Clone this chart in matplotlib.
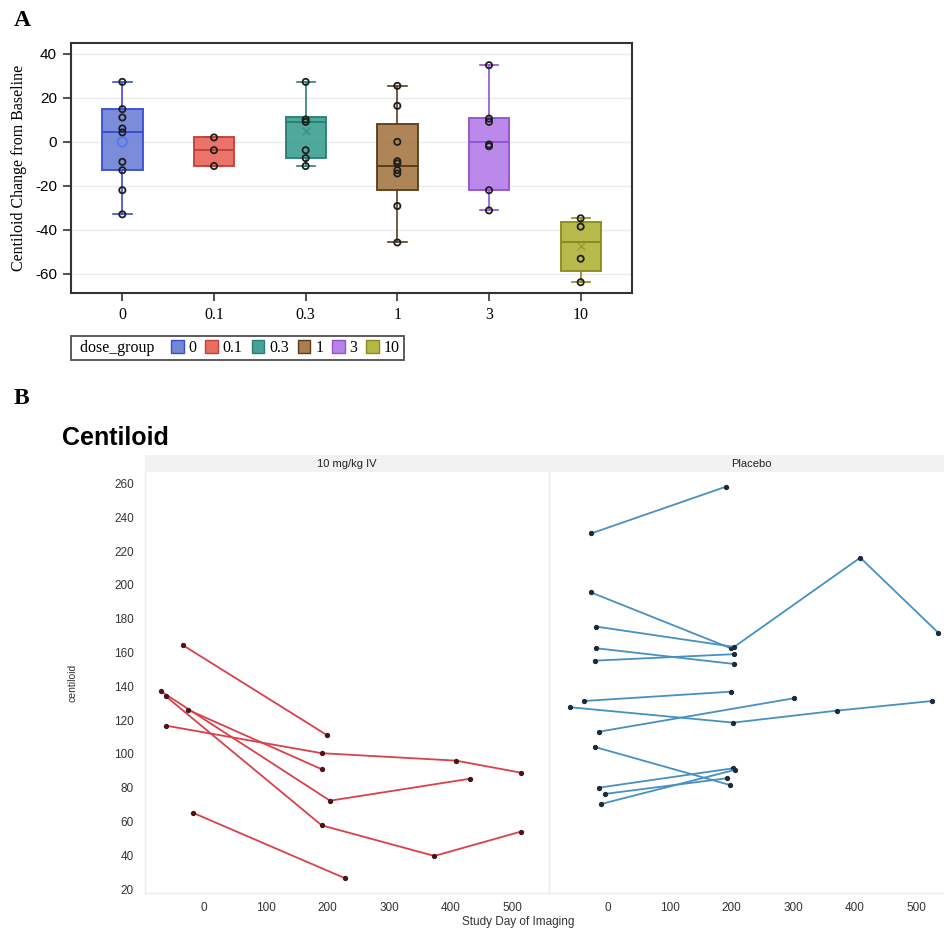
import matplotlib
matplotlib.use("Agg")
import matplotlib.pyplot as plt
from matplotlib.patches import Patch, Rectangle
from matplotlib.legend_handler import HandlerBase

# ---------------- Panel A data ----------------
dose_groups = ["0", "0.1", "0.3", "1", "3", "10"]
box_q1 = [-12.9, -11.0, -7.4, -22.0, -22.0, -58.6]
box_med = [4.3, -3.8, 9.1, -11.0, 0.0, -45.7]
box_q3 = [14.9, 2.0, 11.1, 8.2, 10.9, -36.7]
box_wlo = [-33.0, -11.0, -11.0, -45.8, -31.2, -63.9]
box_whi = [27.3, 2.0, 27.3, 25.5, 34.9, -34.8]
box_mean = [0.0, None, 4.8, None, None, -47.4]
points_0 = [27.3, 14.9, 11.1, 6.1, 4.3, -9.1, -12.9, -22.0, -33.0]
points_01 = [2.0, -3.8, -11.0]
points_03 = [27.3, 10.2, 9.1, -3.8, -7.4, -11.0]
points_1 = [25.5, 16.4, 0.0, -8.8, -9.8, -12.9, -14.4, -29.2, -45.8]
points_3 = [34.9, 10.6, 9.1, -1.2, -2.0, -22.0, -31.2]
points_10 = [-34.8, -38.6, -53.2, -63.9]
group_points = [points_0, points_01, points_03, points_1, points_3, points_10]
fill_colors = ["#7386d8", "#ea6c62", "#45a397", "#a97e4e", "#b883e8", "#b6b744"]
edge_colors = ["#3a4ed2", "#c4403a", "#2a7f74", "#5c3d1b", "#9352d0", "#8a8b1c"]
mean_markers = ["o", "+", "x", "^", "s", "x"]

# ---------------- Panel B data ----------------
active_days = [
    [-69.7, 204.2, 431.0],
    [-61.6, 190.8, 373.3, 513.3],
    [-25.4, 190.8],
    [-61.6, 190.8, 408.4, 513.3],
    [-34.6, 198.8],
    [-18.3, 228.5],
]
active_vals = [
    [137.0, 72.3, 85.3],
    [134.0, 57.7, 39.6, 54.0],
    [126.0, 90.9],
    [116.7, 100.4, 96.0, 88.9],
    [164.4, 111.2],
    [65.2, 26.4],
]
placebo_days = [
    [-26.8, 191.0],
    [-27.9, 199.0],
    [-18.7, 204.4, 408.7, 535.0],
    [-18.7, 204.4],
    [-20.3, 204.4],
    [-38.7, 199.0],
    [-61.8, 203.2, 371.0, 525.3],
    [-15.0, 301.1],
    [-21.5, 197.4],
    [-15.0, 203.2],
    [-5.3, 193.5],
    [-10.6, 205.0],
]
placebo_vals = [
    [230.5, 258.1],
    [195.6, 162.5],
    [175.3, 163.3, 216.1, 171.7],
    [162.5, 153.2],
    [155.2, 159.0],
    [131.3, 136.8],
    [127.6, 118.5, 125.6, 131.3],
    [113.1, 132.9],
    [104.1, 81.6],
    [80.0, 91.5],
    [76.3, 85.6],
    [70.4, 90.5],
]
facet_labels = ["10 mg/kg IV", "Placebo"]
b_yticks = [20, 40, 60, 80, 100, 120, 140, 160, 180, 200, 220, 240, 260]
b_xticks = [0, 100, 200, 300, 400, 500]
a_yticks = [-60, -40, -20, 0, 20, 40]

W, H = 944, 930
fig = plt.figure(figsize=(W / 100, H / 100), dpi=100)

def fx(px):
    return px / W

def fy(py):
    return 1 - py / H

SERIF = ["Liberation Serif", "DejaVu Serif"]
SANS = ["Liberation Sans", "DejaVu Sans"]

# ================= Panel A =================
axA = fig.add_axes([fx(71), fy(293), fx(632) - fx(71), fy(43) - fy(293)])
positions = list(range(len(dose_groups)))
for i in positions:
    st = dict(med=box_med[i], q1=box_q1[i], q3=box_q3[i], whislo=box_wlo[i],
              whishi=box_whi[i], fliers=[], label=dose_groups[i])
    axA.bxp([st], positions=[i], widths=0.44, patch_artist=True, showfliers=False,
            boxprops=dict(facecolor=fill_colors[i], edgecolor=edge_colors[i], linewidth=1.4, alpha=0.95),
            medianprops=dict(color=edge_colors[i], linewidth=1.4),
            whiskerprops=dict(color=edge_colors[i], linewidth=1.2),
            capprops=dict(color=edge_colors[i], linewidth=1.2),
            capwidths=0.2, zorder=2)
    pts = group_points[i]
    axA.scatter([i] * len(pts), pts, s=20, facecolors="none",
                edgecolors="#1e1e1e", linewidths=1.3, zorder=4)
    if box_mean[i] is not None:
        if mean_markers[i] == "o":
            axA.scatter([i], [box_mean[i]], s=45, facecolors="none",
                        edgecolors="#5a78f0", linewidths=1.5, zorder=3)
        else:
            axA.scatter([i], [box_mean[i]], s=30, marker=mean_markers[i],
                        color=edge_colors[i], linewidths=1.0, alpha=0.6, zorder=3)

axA.set_xlim(-0.56, 5.56)
axA.set_ylim(-68.8, 45)
axA.set_xticks(positions)
axA.set_xticklabels(dose_groups, fontfamily=SERIF, fontsize=11.5)
axA.set_yticks(a_yticks)
axA.set_yticklabels([str(v) for v in a_yticks], fontfamily=SANS, fontsize=11)
axA.tick_params(axis="both", direction="out", length=6, width=1.2, color="#333333", pad=4)
axA.yaxis.grid(True, color="#ebebeb", linewidth=1.0)
axA.set_axisbelow(True)
for s in axA.spines.values():
    s.set_linewidth(1.5)
    s.set_color("#333333")
axA.set_ylabel("Centiloid Change from Baseline", fontfamily=SERIF, fontsize=11.5, labelpad=6)

fig.text(fx(14), fy(20), "A", fontfamily=SERIF, fontsize=17, fontweight="bold", va="center", ha="left")
fig.text(fx(14), fy(398), "B", fontfamily=SERIF, fontsize=17, fontweight="bold", va="center", ha="left")


class HandlerNone(HandlerBase):
    def legend_artist(self, legend, orig_handle, fontsize, handlebox):
        handlebox.width = 0
        r = Rectangle((0, 0), 0, 0, facecolor="none", edgecolor="none")
        handlebox.add_artist(r)
        return r


title_handle = Patch(facecolor="none", edgecolor="none")
handles = [title_handle] + [
    Patch(facecolor=fill_colors[i], edgecolor=edge_colors[i], linewidth=1.0) for i in positions]
labels = ["dose_group  "] + dose_groups
leg = fig.legend(handles, labels, ncol=7, loc="upper left",
                 bbox_to_anchor=(fx(71), fy(336)), bbox_transform=fig.transFigure,
                 prop=dict(family=SERIF, size=11.5), handlelength=0.8, handleheight=0.8,
                 handletextpad=0.3, columnspacing=0.55, borderpad=0.25, borderaxespad=0,
                 fancybox=False, frameon=True, handler_map={title_handle: HandlerNone()})
leg.get_frame().set_edgecolor("#222222")
leg.get_frame().set_linewidth(1.3)

# ================= Panel B =================
fig.text(fx(62), fy(438), "Centiloid", fontfamily=SANS, fontsize=18, fontweight="bold",
         va="center", ha="left")

left_px, mid_px, right_px = 145, 549, 953
top_px, bot_px = 472, 893.3
strip_top = 455
axes_b = []
for k, (l, r) in enumerate([(left_px, mid_px), (mid_px, right_px)]):
    ax = fig.add_axes([fx(l), fy(bot_px), fx(r) - fx(l), fy(top_px) - fy(bot_px)])
    ax.set_xlim(-95.6, 559)
    ax.set_ylim(17.5, 266.8)
    ax.set_xticks(b_xticks)
    ax.set_xticklabels([str(v) for v in b_xticks], fontfamily=SANS, fontsize=8.5, color="#333333")
    ax.set_yticks(b_yticks)
    ax.tick_params(axis="both", length=0, pad=6)
    ax.tick_params(axis="y", pad=8)
    if k == 0:
        ax.set_yticklabels([str(v) for v in b_yticks], fontfamily=SANS, fontsize=8.5, color="#333333")
    else:
        ax.set_yticklabels([])
    for s in ax.spines.values():
        s.set_color("#ececec")
        s.set_linewidth(1.0)
    ax.spines["top"].set_visible(False)
    # strip
    sax = fig.add_axes([fx(l), fy(top_px), fx(r) - fx(l), fy(strip_top) - fy(top_px)])
    sax.set_facecolor("#f2f2f2")
    sax.set_xticks([])
    sax.set_yticks([])
    for s in sax.spines.values():
        s.set_visible(False)
    sax.text(0.5, 0.5, facet_labels[k], transform=sax.transAxes, ha="center", va="center",
             fontfamily=SANS, fontsize=8, color="#222222")
    axes_b.append(ax)

for d, v in zip(active_days, active_vals):
    axes_b[0].plot(d, v, color="#d9404a", linewidth=1.3, marker="o", markersize=2.8,
                   markerfacecolor="#4a1518", markeredgecolor="#4a1518", clip_on=False)
for d, v in zip(placebo_days, placebo_vals):
    axes_b[1].plot(d, v, color="#4790c2", linewidth=1.3, marker="o", markersize=2.8,
                   markerfacecolor="#1d2a3a", markeredgecolor="#1d2a3a", clip_on=False)

fig.text(fx(72), fy(683), "centiloid", rotation=90, fontfamily=SANS, fontsize=7.5,
         ha="center", va="center", color="#333333")
fig.text(fx(518), fy(922), "Study Day of Imaging", fontfamily=SANS, fontsize=8.5,
         ha="center", va="center", color="#333333")

fig.savefig("out.png", dpi=100)
